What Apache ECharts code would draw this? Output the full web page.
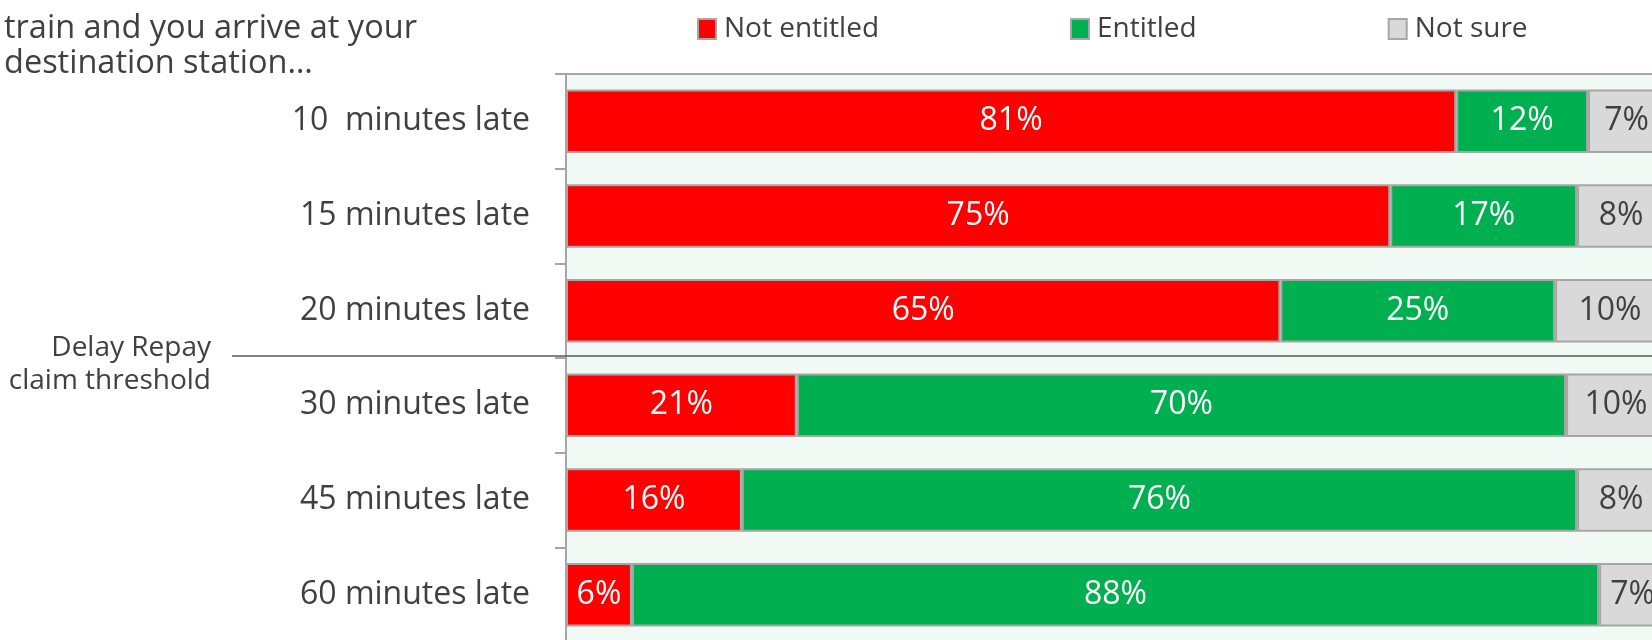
<!DOCTYPE html>
<html>
<head>
<meta charset="utf-8">
<script src="https://cdn.jsdelivr.net/npm/echarts@6/dist/echarts.min.js"></script>
<style>
  html, body { margin: 0; padding: 0; background: #ffffff; }
  #chart { width: 1652px; height: 640px; }
</style>
</head>
<body>
<div id="chart"></div>
<script>
// Survey: entitlement to Delay Repay compensation by length of delay
const categories = [
  '10  minutes late',
  '15 minutes late',
  '20 minutes late',
  '30 minutes late',
  '45 minutes late',
  '60 minutes late'
];
const notEntitled = [81, 75, 65, 21, 16, 6];
const entitled = [12, 17, 25, 70, 76, 88];
const notSure = [7, 8, 10, 10, 8, 7];

const seriesNames = ['Not entitled', 'Entitled', 'Not sure'];
const seriesColors = ['#FF0000', '#00B050', '#D9D9D9'];
const labelColors = ['#FFFFFF', '#FFFFFF', '#404040'];

const questionTail = 'train and you arrive at your\ndestination station\u2026';
const thresholdText = 'Delay Repay\nclaim threshold';
// threshold sits between these two categories
const thresholdBetween = ['20 minutes late', '30 minutes late'];

const FONT = '"Open Sans", "Noto Sans", sans-serif';
const TEXT = '#404040';
const BORDER = '#A6A6A6';

const chart = echarts.init(document.getElementById('chart'), null, { renderer: 'canvas' });

function barSeries(name, values, idx) {
  return {
    name: name,
    type: 'bar',
    stack: 'total',
    data: values,
    barWidth: '67%',
    itemStyle: { color: seriesColors[idx], borderColor: BORDER, borderWidth: 2 },
    label: {
      show: true,
      position: 'inside',
      formatter: '{c}%',
      color: labelColors[idx],
      fontFamily: FONT,
      fontSize: 32
    },
    emphasis: { disabled: true }
  };
}

chart.setOption({
  animation: false,
  backgroundColor: '#FFFFFF',
  title: {
    text: questionTail,
    left: -1,
    top: 6,
    textStyle: { fontFamily: FONT, fontSize: 32.5, fontWeight: 'normal', color: TEXT, lineHeight: 35 }
  },
  legend: {
    data: seriesNames,
    left: 692,
    top: 10,
    itemWidth: 18,
    itemHeight: 20,
    itemGap: 191,
    icon: 'rect',
    textStyle: { fontFamily: FONT, fontSize: 28, color: TEXT, padding: [0, 0, 0, 3] }
  },
  // the plot runs a little past the right edge of the page
  grid: {
    left: 566,
    width: 1099,
    top: 74,
    bottom: -2,
    outerBoundsMode: 'none',
    containLabel: false,
    show: true,
    backgroundColor: '#F1F9F5',
    borderWidth: 0
  },
  xAxis: {
    type: 'value',
    min: 0,
    max: 100,
    position: 'top',
    axisLine: { show: true, lineStyle: { color: BORDER, width: 2 } },
    axisTick: { show: false },
    axisLabel: { show: false },
    splitLine: { show: false }
  },
  yAxis: {
    type: 'category',
    data: categories,
    inverse: true,
    axisLine: { show: true, lineStyle: { color: BORDER, width: 2 } },
    axisTick: { show: true, length: 11, lineStyle: { color: BORDER, width: 2 } },
    axisLabel: { margin: 36, fontFamily: FONT, fontSize: 32, color: TEXT }
  },
  series: [
    barSeries(seriesNames[0], notEntitled, 0),
    barSeries(seriesNames[1], entitled, 1),
    barSeries(seriesNames[2], notSure, 2)
  ]
});

// Threshold rule and its caption, placed from the category axis
const yA = chart.convertToPixel({ yAxisIndex: 0 }, thresholdBetween[0]);
const yB = chart.convertToPixel({ yAxisIndex: 0 }, thresholdBetween[1]);
const lineY = Math.round((yA + yB) / 2) - 2;

chart.setOption({
  graphic: [
    {
      type: 'line',
      shape: { x1: 232, y1: lineY, x2: 1652, y2: lineY },
      style: { stroke: '#595959', lineWidth: 1.5 },
      z: 100
    },
    {
      type: 'text',
      x: 211,
      y: lineY + 9,
      style: {
        text: thresholdText,
        align: 'right',
        verticalAlign: 'middle',
        fontFamily: FONT,
        fontSize: 28,
        lineHeight: 33,
        fill: TEXT
      },
      z: 100
    }
  ]
});
</script>
</body>
</html>
